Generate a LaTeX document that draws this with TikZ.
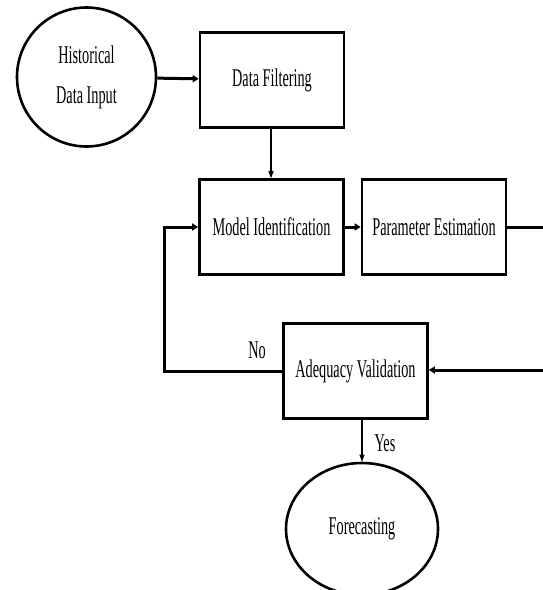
\documentclass[tikz,border=0pt]{standalone}
\usepackage{fontspec}
\setmainfont[FakeStretch=0.56]{Liberation Serif}
\usepackage{tikz}
\usetikzlibrary{shapes.geometric, arrows.meta, positioning, calc}

\begin{document}
\begin{tikzpicture}[
    x=1pt, y=-1pt,
    txt/.style={font=\fontsize{25.5}{40}\selectfont, align=center},
    box/.style={rectangle, draw, line width=2.6pt, minimum width=144pt, minimum height=95pt, inner sep=0pt, txt},
    term/.style={ellipse, draw, line width=2.6pt, inner sep=0pt, txt},
    thickflow/.style={line width=3pt, -{Triangle[length=6pt, width=7pt]}},
    thinflow/.style={line width=1.3pt, -{Triangle[length=7pt, width=5pt]}},
    lbl/.style={txt, inner sep=0pt},
]
    \useasboundingbox (0,0) rectangle (543,590);
    % Nodes
    \node[term, minimum width=139pt, minimum height=139pt] (hist) at (86.5,77) {Historical\\Data Input};
    \node[box] (filter) at (272,80) {Data Filtering};
    \node[box] (ident) at (271.5,227) {Model Identification};
    \node[box] (param) at (434,227) {Parameter Estimation};
    \node[box] (valid) at (355.5,371) {Adequacy Validation};
    \node[term, minimum width=152pt, minimum height=132pt] (fore) at (362,529) {Forecasting};
    % Off-page return line and feedback corner
    \coordinate (rtop) at (550,227);
    \coordinate (rbot) at (550,370);
    \coordinate (back) at (164,300);
    % Connectors
    \draw[thickflow] (hist) -- (filter);
    \draw[thinflow] (filter.south -| 271,0) -- (ident.north -| 271,0);
    \draw[thickflow] (ident) -- (param);
    \draw[line width=3pt] (param.east) -- (rtop);
    \draw[thickflow] (rbot) -- (valid.east |- rbot);
    \draw[thickflow] (valid.west) -| (back) |- (ident.west);
    \draw[thinflow] (valid.south -| fore.north) -- (fore.north);
    % Decision labels
    \node[lbl] (no) at (257,350) {No};
    \node[lbl] (yes) at (385,443) {Yes};
\end{tikzpicture}
\end{document}
